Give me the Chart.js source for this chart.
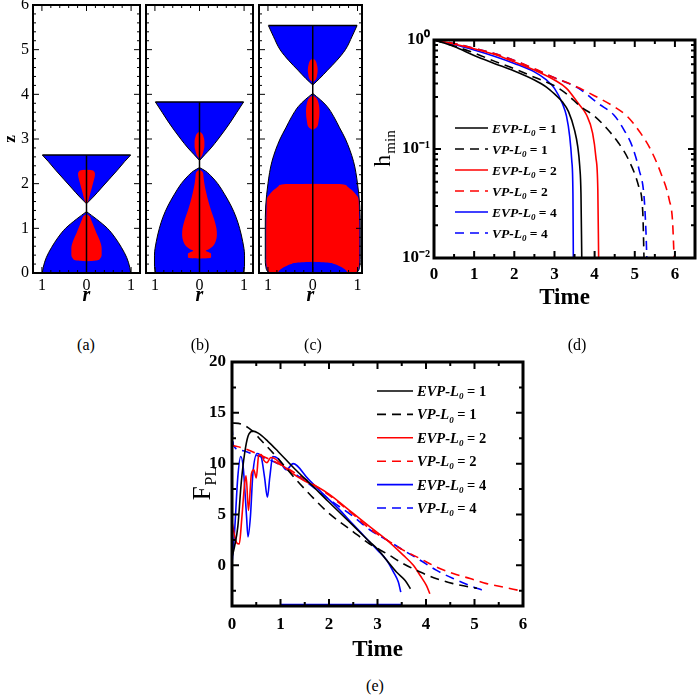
<!DOCTYPE html>
<html>
<head>
<meta charset="utf-8">
<script src="https://cdn.jsdelivr.net/npm/chart.js@4.4.1/dist/chart.umd.min.js"></script>
<style>
  body { margin: 0; background: #fff; width: 698px; height: 695px; position: relative; overflow: hidden; font-family: 'Liberation Serif', 'Times New Roman', serif; }
  canvas { position: absolute; }
  .cap { position: absolute; font-size: 16px; transform: translate(-50%, -50%); color: #000; }
</style>
</head>
<body>
<canvas id="pa" width="142" height="310" style="left:0;top:0"></canvas>
<canvas id="pb" width="113" height="310" style="left:143px;top:0"></canvas>
<canvas id="pc" width="110" height="310" style="left:256px;top:0"></canvas>
<canvas id="pd" width="328" height="300" style="left:370px;top:20px"></canvas>
<canvas id="pe" width="345" height="330" style="left:185px;top:340px"></canvas>
<div class="cap" style="left:86px;top:345px">(a)</div>
<div class="cap" style="left:200px;top:345px">(b)</div>
<div class="cap" style="left:313px;top:345px">(c)</div>
<div class="cap" style="left:577px;top:345px">(d)</div>
<div class="cap" style="left:375px;top:686px">(e)</div>
<script>
const FONT = "'Liberation Serif', 'Times New Roman', serif";
const BLUE = '#0000ff';
const RED = '#ff0000';

// ---- panels (a)-(c): filament shape, radius r against height z ----
const aLowerZ = [0, 0.13, 0.35, 0.57, 0.8, 1.0, 1.21, 1.374];
const aLowerR = [0.99, 0.97, 0.9, 0.785, 0.635, 0.47, 0.22, 0];
const aUpperZ = [1.55, 1.7, 1.9, 2.1, 2.3, 2.5, 2.64];
const aUpperR = [0, 0.15, 0.33, 0.51, 0.69, 0.86, 0.99];
const aRedUpZ = [1.57, 1.65, 1.8, 1.95, 2.1, 2.2, 2.27, 2.3, 2.315];
const aRedUpW = [0.02, 0.05, 0.09, 0.13, 0.17, 0.19, 0.17, 0.12, 0];
const aRedLowZ = [0.26, 0.28, 0.33, 0.42, 0.55, 0.72, 0.9, 1.05, 1.2, 1.28, 1.32];
const aRedLowW = [0, 0.22, 0.31, 0.34, 0.34, 0.3, 0.22, 0.16, 0.1, 0.06, 0];

const bLowerZ = [0, 0.15, 0.4, 0.7, 1.0, 1.25, 1.5, 1.75, 2.0, 2.15, 2.28, 2.36];
const bLowerR = [0.98, 1.01, 1.01, 0.97, 0.9, 0.82, 0.71, 0.57, 0.41, 0.28, 0.14, 0];
const bUpperZ = [2.52, 2.65, 2.8, 3.0, 3.2, 3.4, 3.6, 3.83];
const bUpperR = [0, 0.12, 0.26, 0.42, 0.57, 0.71, 0.84, 0.99];
const bRedUpZ = [2.56, 2.6, 2.7, 2.85, 2.95, 3.05, 3.12, 3.17];
const bRedUpW = [0, 0.04, 0.08, 0.11, 0.11, 0.09, 0.06, 0];
const bRedLowZ = [0.32, 0.33, 0.36, 0.43, 0.47, 0.5, 0.54, 0.6, 0.7, 0.85, 1.0, 1.2, 1.4, 1.6, 1.8, 2.0, 2.15, 2.26, 2.31];
const bRedLowW = [0, 0.2, 0.26, 0.26, 0.2, 0.14, 0.22, 0.3, 0.36, 0.39, 0.38, 0.33, 0.26, 0.2, 0.15, 0.11, 0.09, 0.07, 0];

const cLowerZ = [0, 0.05, 0.15, 0.3, 1.0, 1.5, 2.0, 2.5, 3.0, 3.25, 3.5, 3.73, 3.88, 4.02];
const cLowerR = [0.97, 1.02, 1.05, 1.06, 1.06, 1.05, 1.0, 0.91, 0.73, 0.6, 0.47, 0.32, 0.17, 0];
const cUpperZ = [4.21, 4.35, 4.54, 4.75, 5.0, 5.3, 5.54];
const cUpperR = [0, 0.15, 0.33, 0.53, 0.73, 0.88, 0.99];
const cRedUpZ = [4.27, 4.32, 4.45, 4.55, 4.68, 4.77, 4.81];
const cRedUpW = [0, 0.06, 0.1, 0.11, 0.09, 0.05, 0];
const cRedMidZ = [3.2, 3.25, 3.4, 3.6, 3.8, 3.92, 3.98];
const cRedMidW = [0, 0.08, 0.13, 0.15, 0.13, 0.08, 0];
const cRedBigZ = [0, 0.05, 0.15, 0.3, 1.0, 1.5, 1.67, 1.75, 1.85, 1.95, 1.99, 2.0];
const cRedBigW = [0.95, 1.0, 1.03, 1.04, 1.04, 1.03, 1.02, 0.97, 0.88, 0.76, 0.6, 0];
const cDomeZ = [0, 0.05, 0.1, 0.15, 0.2, 0.23, 0.25];
const cDomeW = [0.78, 0.75, 0.69, 0.6, 0.48, 0.36, 0];

// ---- series shared by (d) and (e) ----
const models = ['EVP', 'VP', 'EVP', 'VP', 'EVP', 'VP'];
const lengths = [1, 1, 2, 2, 4, 4];

// (d) h_min against time, [time, h]
const dEVP1 = [[0,1],[0.5,0.87],[1.0,0.72],[1.5,0.61],[2.0,0.52],[2.5,0.43],[2.8,0.37],[3.0,0.32],[3.2,0.27],[3.35,0.22],[3.5,0.149],[3.58,0.105],[3.63,0.069],[3.66,0.039],[3.68,0.01]];
const dVP1 = [[0,1],[0.5,0.88],[1.0,0.76],[1.5,0.64],[2.0,0.545],[2.5,0.455],[3.0,0.38],[3.3,0.32],[3.65,0.245],[4.0,0.2],[4.3,0.155],[4.6,0.113],[4.85,0.079],[5.1,0.045],[5.2,0.026],[5.23,0.01]];
const dEVP2 = [[0,1],[0.5,0.92],[1.0,0.83],[1.5,0.74],[2.0,0.63],[2.5,0.53],[3.0,0.43],[3.3,0.36],[3.6,0.26],[3.8,0.205],[3.95,0.14],[4.03,0.085],[4.08,0.042],[4.1,0.01]];
const dVP2 = [[0,1],[0.5,0.93],[1.0,0.84],[1.5,0.75],[2.0,0.65],[2.5,0.545],[3.0,0.45],[3.5,0.38],[3.98,0.31],[4.48,0.245],[4.82,0.198],[5.15,0.139],[5.4,0.098],[5.65,0.06],[5.86,0.034],[5.94,0.022],[5.98,0.01]];
const dEVP4 = [[0,1],[0.5,0.91],[1.0,0.81],[1.5,0.71],[2.0,0.61],[2.5,0.51],[2.8,0.43],[3.0,0.36],[3.2,0.26],[3.3,0.2],[3.38,0.13],[3.43,0.079],[3.46,0.039],[3.47,0.01]];
const dVP4 = [[0,1],[0.5,0.93],[1.0,0.84],[1.5,0.75],[2.0,0.65],[2.5,0.54],[3.0,0.45],[3.35,0.4],[3.65,0.35],[4.1,0.26],[4.48,0.205],[4.73,0.15],[4.94,0.105],[5.11,0.064],[5.23,0.037],[5.28,0.017],[5.3,0.01]];
const dYTicks = [0.01, 0.1, 1];
const dYLabels = ['10\u207B\u00B2', '10\u207B\u00B9', '10\u2070'];

// (e) F_PL against time, [time, F]
const eEVP1 = [[0,0.8],[0.05,1.8],[0.12,3.8],[0.19,8.1],[0.26,11.0],[0.33,12.7],[0.43,13.2],[0.54,13.0],[0.74,12.2],[0.95,11.2],[1.29,9.5],[1.64,7.9],[1.98,6.3],[2.5,3.9],[2.84,2.3],[3.0,1.6],[3.19,0.5],[3.39,-0.66],[3.57,-1.5],[3.68,-2.3]];
const eVP1 = [[0,14.0],[0.19,13.9],[0.4,13.3],[0.6,12.3],[0.95,10.5],[1.29,8.6],[1.64,6.8],[1.98,5.2],[2.5,3.3],[2.84,2.1],[3.19,1.15],[3.53,0.17],[3.88,-0.66],[4.22,-1.32],[4.56,-1.8],[4.91,-2.15],[5.05,-2.25]];
const eEVP2 = [[0,4.3],[0.05,3.0],[0.1,2.2],[0.15,2.1],[0.2,4.5],[0.26,8.0],[0.29,8.8],[0.34,5.4],[0.4,9.0],[0.45,9.4],[0.5,8.6],[0.55,10.8],[0.6,10.9],[0.66,10.3],[0.72,10.1],[0.8,10.6],[0.88,10.5],[1.0,10.0],[1.2,9.2],[1.5,8.3],[1.8,7.6],[2.0,7.0],[2.5,5.1],[2.84,3.8],[3.19,2.5],[3.53,1.0],[3.74,0.0],[3.88,-1.0],[4.01,-2.0],[4.08,-2.8]];
const eVP2 = [[0,11.8],[0.25,11.5],[0.6,10.8],[1.0,9.9],[1.5,8.5],[2.0,6.9],[2.5,5.0],[2.84,3.6],[3.19,2.5],[3.53,1.5],[3.88,0.66],[4.22,-0.17],[4.56,-0.8],[4.91,-1.3],[5.25,-1.8],[5.6,-2.15],[6.0,-2.55]];
const eEVP4 = [[0,0.2],[0.05,3.1],[0.12,8.7],[0.18,10.7],[0.23,9.7],[0.3,4.8],[0.33,2.8],[0.38,4.8],[0.43,9.0],[0.52,11.0],[0.6,10.7],[0.67,8.7],[0.73,6.7],[0.78,8.7],[0.84,10.7],[0.95,10.5],[1.12,9.4],[1.26,10.0],[1.57,8.5],[1.84,7.2],[2.19,5.6],[2.5,4.0],[2.84,2.3],[3.0,1.5],[3.19,0.5],[3.33,-0.66],[3.43,-1.65],[3.48,-2.64]];
const eVP4 = [[0,13.7],[0.03,11.8],[0.2,11.3],[0.45,10.9],[0.7,10.5],[0.95,10.0],[1.3,9.0],[1.7,7.6],[2.0,6.5],[2.5,4.8],[2.84,3.5],[3.19,2.5],[3.53,1.5],[3.88,0.5],[4.22,-0.5],[4.56,-1.3],[4.91,-2.0],[5.2,-2.5]];
const eBottomBlue = [[1.0,-3.85],[3.5,-3.85]];

const colours = ['#000000', '#000000', RED, RED, BLUE, BLUE];

// frame with inward ticks on all four sides
const frameTicks = {
  id: 'frameTicks',
  afterDatasetsDraw(chart, args, o) {
    const {ctx, chartArea: a, scales: {x, y}} = chart;
    const steps = (min, max, step) => {
      const out = [];
      for (let i = Math.ceil(min / step - 1e-9); i * step <= max + 1e-9; i++) out.push(i * step);
      return out;
    };
    const xv = steps(x.min, x.max, o.xMinor).map(v => [v, Math.abs(v / o.xMajor - Math.round(v / o.xMajor)) < 1e-6]);
    let yv;
    if (o.yLog) {
      yv = [];
      for (let k = Math.round(Math.log10(y.min)); k < Math.round(Math.log10(y.max)); k++) {
        for (let m = 1; m < 10; m++) yv.push([m * Math.pow(10, k), m === 1]);
      }
      yv.push([y.max, true]);
    } else {
      yv = steps(y.min, y.max, o.yMinor).map(v => [v, Math.abs(v / o.yMajor - Math.round(v / o.yMajor)) < 1e-6]);
    }
    ctx.save();
    ctx.strokeStyle = '#000';
    ctx.lineWidth = o.tickWidth;
    ctx.beginPath();
    xv.forEach(([v, major]) => {
      const p = x.getPixelForValue(v), len = major ? o.majorLen : o.minorLen;
      ctx.moveTo(p, a.bottom); ctx.lineTo(p, a.bottom - len);
      ctx.moveTo(p, a.top); ctx.lineTo(p, a.top + len);
    });
    yv.forEach(([v, major]) => {
      const p = y.getPixelForValue(v), len = major ? o.majorLen : o.minorLen;
      ctx.moveTo(a.left, p); ctx.lineTo(a.left + len, p);
      ctx.moveTo(a.right, p); ctx.lineTo(a.right - len, p);
    });
    ctx.stroke();
    ctx.lineWidth = o.width;
    ctx.strokeRect(a.left, a.top, a.right - a.left, a.bottom - a.top);
    ctx.restore();
  }
};

// side title with subscript and the line legend
const extraText = {
  id: 'extraText',
  afterDraw(chart, args, o) {
    const ctx = chart.ctx, a = chart.chartArea;
    ctx.save();
    ctx.fillStyle = '#000';
    if (o.side) {
      const s = o.side;
      ctx.save();
      ctx.translate(s.x, (a.top + a.bottom) / 2);
      ctx.rotate(-Math.PI / 2);
      ctx.font = s.weight + ' ' + s.size + 'px ' + FONT;
      const w1 = ctx.measureText(s.main).width;
      ctx.font = s.weight + ' ' + s.subSize + 'px ' + FONT;
      const w2 = ctx.measureText(s.sub).width;
      const x0 = -(w1 + w2) / 2;
      ctx.font = s.weight + ' ' + s.size + 'px ' + FONT;
      ctx.fillText(s.main, x0, s.size * 0.35);
      ctx.font = s.weight + ' ' + s.subSize + 'px ' + FONT;
      ctx.fillText(s.sub, x0 + w1 + 1, s.size * 0.35 + s.drop);
      ctx.restore();
    }
    if (o.legend) {
      const L = o.legend;
      chart.data.datasets.filter(d => d.model).forEach((d, i) => {
        const y = L.y + i * L.dy;
        ctx.save();
        ctx.strokeStyle = d.borderColor;
        ctx.lineWidth = d.borderWidth;
        ctx.setLineDash(d.borderDash || []);
        ctx.beginPath();
        ctx.moveTo(L.x, y);
        ctx.lineTo(L.x + L.len, y);
        ctx.stroke();
        ctx.restore();
        let x = L.x + L.len + L.gap;
        const base = y + L.size * 0.35;
        ctx.font = 'italic bold ' + L.size + 'px ' + FONT;
        ctx.fillText(d.model + '-L', x, base);
        x += ctx.measureText(d.model + '-L').width;
        ctx.font = 'italic bold ' + Math.round(L.size * 0.65) + 'px ' + FONT;
        ctx.fillText('0', x, base + L.size * 0.22);
        x += ctx.measureText('0').width;
        ctx.font = 'bold ' + L.size + 'px ' + FONT;
        ctx.fillText(' = ' + d.len, x, base);
      });
    }
    ctx.restore();
  }
};

// keep the plot boxes where the layout puts them, no room taken for label overhang
function fixX(h) { return s => { s.height = h; s.paddingLeft = 0; s.paddingRight = 0; }; }
function fixY(w) { return s => { s.width = w; s.paddingTop = 0; s.paddingBottom = 0; }; }

function halves(zs, ws, colour, edge, order) {
  return [1, -1].map(s => ({
    data: zs.map((z, i) => ({x: s * ws[i], y: z})),
    backgroundColor: colour,
    borderColor: edge ? '#000' : 'rgba(0,0,0,0)',
    borderWidth: 1,
    fill: 'origin',
    cubicInterpolationMode: 'monotone',
    pointRadius: 0,
    order: order
  }));
}

function shapeChart(id, p) {
  let ds = [];
  ds = ds.concat(halves(p.lower[0], p.lower[1], BLUE, true, 5));
  ds = ds.concat(halves(p.upper[0], p.upper[1], BLUE, true, 5));
  p.reds.forEach(r => { ds = ds.concat(halves(r[0], r[1], RED, false, 3)); });
  if (p.dome) ds = ds.concat(halves(p.dome[0], p.dome[1], BLUE, false, 2));
  const zTop = p.upper[0][p.upper[0].length - 1];
  const rTop = p.upper[1][p.upper[1].length - 1];
  ds.push({data: [{x: 0, y: 0}, {x: 0, y: zTop}], borderColor: '#000', borderWidth: 1.5, pointRadius: 0, fill: false, order: 0});
  ds.push({data: [{x: -rTop, y: zTop}, {x: rTop, y: zTop}], borderColor: '#000', borderWidth: 1.5, pointRadius: 0, fill: false, order: 0});

  return new Chart(document.getElementById(id), {
    type: 'line',
    data: {datasets: ds},
    options: {
      responsive: false,
      animation: false,
      indexAxis: 'y',
      layout: {padding: p.pad},
      plugins: {
        legend: {display: false},
        tooltip: {enabled: false},
        frameTicks: {xMajor: 1, xMinor: 0.2, yMajor: 1, yMinor: 0.2, majorLen: 6, minorLen: 3, tickWidth: 1, width: 2}
      },
      scales: {
        x: {
          type: 'linear', min: p.xMin, max: p.xMax,
          grid: {display: false, drawTicks: false}, border: {display: false},
          ticks: {stepSize: 1, includeBounds: false, autoSkip: false, maxRotation: 0, padding: 3, color: '#000',
                  font: {family: FONT, size: 16}, callback: v => String(Math.abs(v))},
          title: {display: true, text: 'r', color: '#000', padding: {top: 0, bottom: 2},
                  font: {family: FONT, size: 20, weight: 'bold', style: 'italic'}},
          afterFit: fixX(37)
        },
        y: {
          type: 'linear', min: 0, max: 6, display: p.showY,
          grid: {display: false, drawTicks: false}, border: {display: false},
          ticks: {stepSize: 1, autoSkip: false, padding: 4, color: '#000', font: {family: FONT, size: 16}},
          title: {display: true, text: 'z', color: '#000', padding: {top: 0, bottom: 0},
                  font: {family: FONT, size: 17, weight: 'bold'}},
          afterFit: p.showY ? fixY(33) : fixY(0)
        }
      }
    },
    plugins: [frameTicks]
  });
}

shapeChart('pa', {lower: [aLowerZ, aLowerR], upper: [aUpperZ, aUpperR],
  reds: [[aRedUpZ, aRedUpW], [aRedLowZ, aRedLowW]], xMin: -1.2, xMax: 1.2, showY: true,
  pad: {left: 0, top: 5, right: 2, bottom: 0}});
shapeChart('pb', {lower: [bLowerZ, bLowerR], upper: [bUpperZ, bUpperR],
  reds: [[bRedUpZ, bRedUpW], [bRedLowZ, bRedLowW]], xMin: -1.2, xMax: 1.2, showY: false,
  pad: {left: 3, top: 5, right: 3, bottom: 0}});
shapeChart('pc', {lower: [cLowerZ, cLowerR], upper: [cUpperZ, cUpperR],
  reds: [[cRedUpZ, cRedUpW], [cRedMidZ, cRedMidW], [cRedBigZ, cRedBigW]], dome: [cDomeZ, cDomeW],
  xMin: -1.2, xMax: 1.1, showY: false,
  pad: {left: 3, top: 5, right: 4, bottom: 0}});

function seriesSets(list, width) {
  return list.map((pts, i) => ({
    model: models[i],
    len: lengths[i],
    label: models[i] + '-L0 = ' + lengths[i],
    data: pts.map(p => ({x: p[0], y: p[1]})),
    borderColor: colours[i],
    borderWidth: width,
    borderDash: models[i] === 'VP' ? [9, 6] : [],
    pointRadius: 0,
    fill: false,
    cubicInterpolationMode: 'monotone'
  }));
}

const tickFont = {family: FONT, size: 17, weight: 'bold'};
const titleFont = {family: FONT, size: 23, weight: 'bold'};

// (d)
new Chart(document.getElementById('pd'), {
  type: 'line',
  data: {datasets: seriesSets([dEVP1, dVP1, dEVP2, dVP2, dEVP4, dVP4], 1.6)},
  options: {
    responsive: false,
    animation: false,
    layout: {padding: {left: 0, top: 20, right: 3, bottom: 0}},
    plugins: {
      legend: {display: false},
      tooltip: {enabled: false},
      frameTicks: {xMajor: 1, xMinor: 0.5, yLog: true, majorLen: 7, minorLen: 4, tickWidth: 2, width: 3},
      extraText: {
        side: {x: 12, main: 'h', sub: 'min', size: 24, subSize: 15, drop: 5, weight: 'normal'},
        legend: {x: 85, y: 108, dy: 21, len: 33, gap: 4, size: 13.5}
      }
    },
    scales: {
      x: {
        type: 'linear', min: 0, max: 6.5,
        grid: {display: false, drawTicks: false}, border: {display: false},
        ticks: {stepSize: 1, includeBounds: false, autoSkip: false, maxRotation: 0, padding: 6, color: '#000', font: tickFont},
        title: {display: true, text: 'Time', color: '#000', padding: {top: 0, bottom: 8}, font: titleFont},
        afterFit: fixX(62)
      },
      y: {
        type: 'logarithmic', min: 0.01, max: 1,
        grid: {display: false, drawTicks: false}, border: {display: false},
        afterBuildTicks: s => { s.ticks = dYTicks.map(v => ({value: v, major: true})); },
        ticks: {autoSkip: false, padding: 4, color: '#000', font: tickFont, callback: (v, i) => dYLabels[i]},
        afterFit: fixY(64)
      }
    }
  },
  plugins: [frameTicks, extraText]
});

// (e)
const eSets = seriesSets([eEVP1, eVP1, eEVP2, eVP2, eEVP4, eVP4], 1.6);
eSets.push({data: eBottomBlue.map(p => ({x: p[0], y: p[1]})), borderColor: BLUE, borderWidth: 1.6, pointRadius: 0, fill: false});
new Chart(document.getElementById('pe'), {
  type: 'line',
  data: {datasets: eSets},
  options: {
    responsive: false,
    animation: false,
    layout: {padding: {left: 0, top: 22, right: 7, bottom: 0}},
    plugins: {
      legend: {display: false},
      tooltip: {enabled: false},
      frameTicks: {xMajor: 1, xMinor: 0.5, yMajor: 5, yMinor: 2.5, majorLen: 7, minorLen: 4, tickWidth: 2, width: 3},
      extraText: {
        side: {x: 16, main: 'F', sub: 'PL', size: 25, subSize: 16, drop: 6, weight: 'normal'},
        legend: {x: 192, y: 51, dy: 23.4, len: 36, gap: 4, size: 14.5}
      }
    },
    scales: {
      x: {
        type: 'linear', min: 0, max: 6,
        grid: {display: false, drawTicks: false}, border: {display: false},
        ticks: {stepSize: 1, includeBounds: false, autoSkip: false, maxRotation: 0, padding: 8, color: '#000', font: tickFont},
        title: {display: true, text: 'Time', color: '#000', padding: {top: 0, bottom: 6}, font: titleFont},
        afterFit: fixX(64)
      },
      y: {
        type: 'linear', min: -4, max: 20,
        grid: {display: false, drawTicks: false}, border: {display: false},
        ticks: {stepSize: 5, includeBounds: false, autoSkip: false, padding: 6, color: '#000', font: tickFont},
        afterFit: fixY(47)
      }
    }
  },
  plugins: [frameTicks, extraText]
});
</script>
</body>
</html>
